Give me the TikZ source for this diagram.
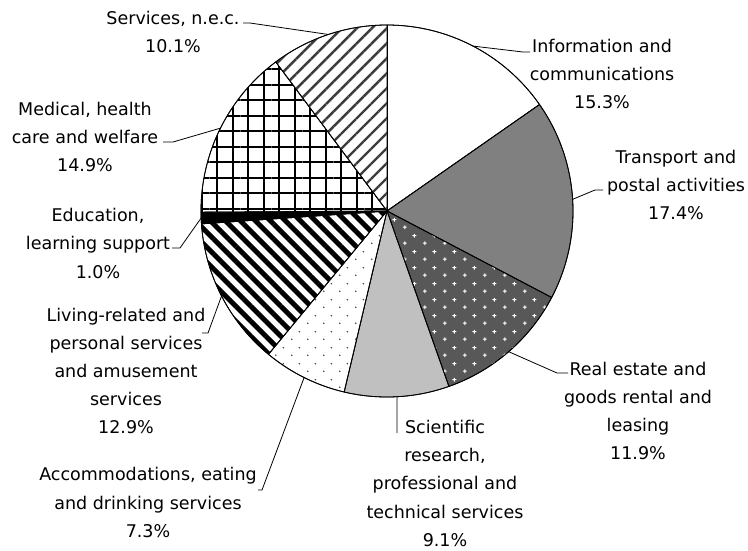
\documentclass[tikz,border=0pt]{standalone}
\usepackage{fontspec}
\setmainfont{DejaVu Sans}
\usetikzlibrary{patterns,patterns.meta,calc}

\pgfdeclarepatternformonly{stagdots}{\pgfqpoint{0pt}{0pt}}{\pgfqpoint{16pt}{16pt}}{\pgfqpoint{16pt}{16pt}}{%
  \pgfpathcircle{\pgfqpoint{4pt}{4pt}}{0.9pt}%
  \pgfpathcircle{\pgfqpoint{12pt}{12pt}}{0.9pt}%
  \pgfusepath{fill}}
\pgfdeclarepatternformonly{plusgrid}{\pgfqpoint{0pt}{0pt}}{\pgfqpoint{20pt}{16pt}}{\pgfqpoint{20pt}{16pt}}{%
  \pgfsetlinewidth{1.1pt}%
  \pgfpathmoveto{\pgfqpoint{3pt}{4pt}}\pgfpathlineto{\pgfqpoint{7pt}{4pt}}%
  \pgfpathmoveto{\pgfqpoint{5pt}{2pt}}\pgfpathlineto{\pgfqpoint{5pt}{6pt}}%
  \pgfpathmoveto{\pgfqpoint{13pt}{12pt}}\pgfpathlineto{\pgfqpoint{17pt}{12pt}}%
  \pgfpathmoveto{\pgfqpoint{15pt}{10pt}}\pgfpathlineto{\pgfqpoint{15pt}{14pt}}%
  \pgfusepath{stroke}}

\definecolor{transgray}{RGB}{128,128,128}
\definecolor{scigray}{RGB}{192,192,192}
\definecolor{estategray}{RGB}{88,88,88}
\definecolor{dotgray}{RGB}{70,70,70}
\definecolor{stripegray}{RGB}{60,60,60}

\tikzset{
  slice/.style={draw=black, line width=0.8pt, line join=round},
  lbl/.style={align=center, inner sep=0pt, font=\fontsize{17.5}{28.2}\selectfont},
  leader/.style={draw=black, line width=0.8pt},
}

\begin{document}
\begin{tikzpicture}[x=1pt,y=-1pt]
\useasboundingbox (0,0) rectangle (748,550);
\fill[white] (0,0) rectangle (748,550);
\def\R{186}
\coordinate (c) at (387,211);

% slices (angles in pixel frame, clockwise from top)
\path[slice, fill=white]
  (c) -- ++(-90:\R) arc[start angle=-90, end angle=-34.92, radius=\R] -- cycle;
\path[slice, fill=transgray]
  (c) -- ++(-34.92:\R) arc[start angle=-34.92, end angle=27.72, radius=\R] -- cycle;
\path[slice, fill=estategray, postaction={pattern=plusgrid, pattern color=white}]
  (c) -- ++(27.72:\R) arc[start angle=27.72, end angle=70.56, radius=\R] -- cycle;
\path[slice, fill=scigray]
  (c) -- ++(70.56:\R) arc[start angle=70.56, end angle=103.32, radius=\R] -- cycle;
\path[slice, fill=white, postaction={pattern=stagdots, pattern color=dotgray}]
  (c) -- ++(103.32:\R) arc[start angle=103.32, end angle=129.6, radius=\R] -- cycle;
\path[slice, fill=white, postaction={pattern={Lines[angle=-45,distance=10.6pt,line width=5pt]}, pattern color=black}]
  (c) -- ++(129.6:\R) arc[start angle=129.6, end angle=176.04, radius=\R] -- cycle;
\path[slice, fill=black]
  (c) -- ++(176.04:\R) arc[start angle=176.04, end angle=179.64, radius=\R] -- cycle;
\path[slice, fill=white, postaction={pattern={Hatch[angle=0,distance=15.5pt,line width=2pt]}, pattern color=black}]
  (c) -- ++(179.64:\R) arc[start angle=179.64, end angle=233.28, radius=\R] -- cycle;
\path[slice, fill=white, postaction={pattern={Lines[angle=45,distance=10.6pt,line width=2.4pt]}, pattern color=stripegray}]
  (c) -- ++(233.28:\R) arc[start angle=233.28, end angle=270, radius=\R] -- cycle;
% redraw outlines on top of patterns
\foreach \a in {-90,-34.92,27.72,70.56,103.32,129.6,176.04,179.64,233.28}
  \draw[slice] (c) -- ++(\a:\R);
\draw[slice] (c) circle[radius=\R];

% labels
\node[lbl] (info)  at (602,73.8)  {Information and\\communications\\15.3\%};
\node[lbl] (trans) at (676,185)   {Transport and\\postal activities\\17.4\%};
\node[lbl] (estate) at (638,410.8) {Real estate and\\goods rental and\\leasing\\11.9\%};
\node[lbl] (sci)   at (445,483.3) {Scientific\\research,\\professional and\\technical services\\9.1\%};
\node[lbl] (accom) at (148,502.5) {Accommodations, eating\\and drinking services\\7.3\%};
\node[lbl] (living) at (126,371)  {Living-related and\\personal services\\and amusement\\services\\12.9\%};
\node[lbl] (educ)  at (98,243.3)  {Education,\\learning support\\1.0\%};
\node[lbl] (medic) at (85,136.7)  {Medical, health\\care and welfare\\14.9\%};
\node[lbl] (serv)  at (173,32)    {Services, n.e.c.\\10.1\%};

% leader anchor points on the arc
\coordinate (infoA)   at ([shift={(-62.46:\R)}]c);
\coordinate (transA)  at ([shift={(-3.6:\R)}]c);
\coordinate (estateA) at ([shift={(49.14:\R)}]c);
\coordinate (sciA)    at ([shift={(86.94:\R)}]c);
\coordinate (accomA)  at ([shift={(116.46:\R)}]c);
\coordinate (livingA) at ([shift={(152.82:\R)}]c);
\coordinate (educA)   at ([shift={(177.84:\R)}]c);
\coordinate (medicA)  at ([shift={(206.46:\R)}]c);
\coordinate (servA)   at ([shift={(251.64:\R)}]c);

% elbows and ends
\coordinate (infoE) at (523,52);   \coordinate (infoL) at (530,52);
\coordinate (transE) at (595,190); \coordinate (transL) at (603,190);
\coordinate (estateE) at (557,373);\coordinate (estateL) at (568,373);
\coordinate (sciL) at (397,433);
\coordinate (accomE) at (262,490); \coordinate (accomL) at (258,490);
\coordinate (livingE) at (208,333);\coordinate (livingL) at (202,333);
\coordinate (educE) at (180,248);  \coordinate (educL) at (172,248);
\coordinate (medicE) at (173,142); \coordinate (medicL) at (163,142);
\coordinate (servE) at (250,23);   \coordinate (servL) at (243,23);

\draw[leader] (infoA) -- (infoE) -- (infoL);
\draw[leader] (transA) -- (transE) -- (transL);
\draw[leader] (estateA) -- (estateE) -- (estateL);
\draw[leader] (sciA) -- (sciL);
\draw[leader] (accomA) -- (accomE) -- (accomL);
\draw[leader] (livingA) -- (livingE) -- (livingL);
\draw[leader] (educA) -- (educE) -- (educL);
\draw[leader] (medicA) -- (medicE) -- (medicL);
\draw[leader] (servA) -- (servE) -- (servL);
\end{tikzpicture}
\end{document}
